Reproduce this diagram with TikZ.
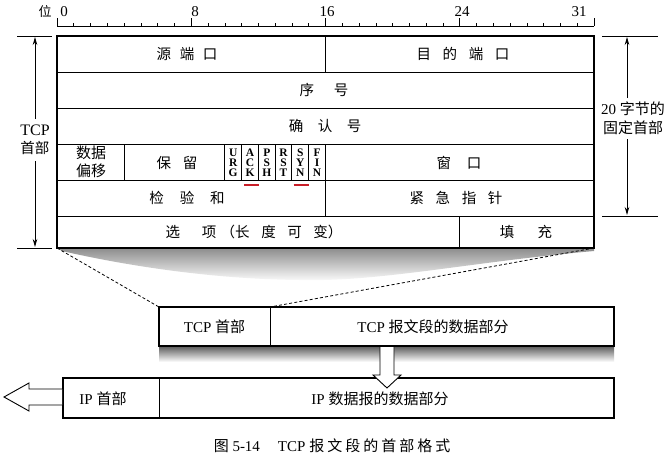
\documentclass[tikz,border=0pt]{standalone}
\usepackage{fontspec}
\setmainfont{Liberation Serif}
\newfontfamily\cjk{Noto Sans CJK SC}
\newfontfamily\cjkcap[LetterSpace=20]{Noto Sans CJK SC}
\usetikzlibrary{arrows.meta}
\newcommand\zh[1]{{\cjk #1}}
\newcommand\gp[1][0.8em]{\hspace{#1}}
\definecolor{ulred}{RGB}{200,30,40}
\begin{document}
\begin{tikzpicture}[x=1pt,y=-1pt,
  lbl/.style={inner sep=0pt, font=\fontsize{14.5}{16}\selectfont},
  big/.style={inner sep=0pt, font=\fontsize{15}{17}\selectfont},
  ruler/.style={inner sep=0pt, font=\fontsize{15}{16}\selectfont},
  outerbox/.style={line width=1.6pt},
  innerline/.style={line width=1pt},
  flag/.style={inner sep=0pt, text height=7.6pt, text depth=0pt, font=\fontsize{11.5}{10}\selectfont\bfseries},
  dimline/.style={line width=0.8pt},
  dimarrow/.style={line width=0.8pt, -{Stealth[length=8pt,width=4.5pt]}},
  hollow/.style={line width=0.9pt, fill=white, line join=miter},
  dashedline/.style={line width=0.8pt, dash pattern=on 3pt off 2.2pt},
  redline/.style={line width=2pt, ulred}
]
\useasboundingbox (0,0) rectangle (669,463);
\fill[white] (0,0) rectangle (669,463);

% ---------- ruler ----------
\draw[line width=0.8pt] (57,26) -- (594,26);
\foreach \i in {1,...,31} \draw[line width=0.6pt] ({57+\i*16.78125},26) -- ++(0,-3.5);
\foreach \i in {0,8,16,24,32} \draw[line width=0.8pt] ({57+\i*16.78125},26) -- ++(0,-8);
\node[inner sep=0pt, font=\fontsize{13}{14}\selectfont] (wei) at (45,12) {\zh{位}};
\node[ruler] (r0) at (64,12) {0};
\node[ruler] (r8) at (195,12) {8};
\node[ruler] (r16) at (327,12) {16};
\node[ruler] (r24) at (462,12) {24};
\node[ruler] (r31) at (579,12) {31};

% ---------- shadows ----------
\shade[top color=black!45, bottom color=white]
  (57,248) -- (594,248) -- (594,251) .. controls (470,262) and (380,282) .. (300,280)
  .. controls (200,279) and (110,262) .. (62,251) -- cycle;
\shade[top color=black!65, bottom color=white] (159,346) rectangle (614,362);

% ---------- header box ----------
\coordinate (hTL) at (57,36);
\coordinate (hBR) at (594,248);
\coordinate (hBL) at (57,248);
\foreach \y in {72,108,144,180,216} \draw[innerline] (57,\y) -- (594,\y);
\draw[innerline] (325.5,36) -- (325.5,72);
\draw[innerline] (124.1,144) -- (124.1,180);
\foreach \i in {10,...,15} \draw[innerline] ({57+\i*16.78125},144) -- ({57+\i*16.78125},180);
\draw[innerline] (325.5,144) -- (325.5,216);
\draw[innerline] (459.75,216) -- (459.75,248);
\draw[outerbox] (hTL) rectangle (hBR);

\node[lbl] (src) at (187,54) {\zh{源\gp[0.6em]端\gp[0.6em]口}};
\node[lbl] (dst) at (463,54) {\zh{目\gp 的\gp 端\gp 口}};
\node[lbl] (seq) at (324,90) {\zh{序\gp[1.35em]号}};
\node[lbl] (ack) at (325,126) {\zh{确\gp[1em]认\gp[1em]号}};
\node[lbl, align=center, font=\fontsize{15}{17.5}\selectfont] (off) at (91,162) {\zh{数据}\\\zh{偏移}};
\node[lbl] (res) at (177,163) {\zh{保\gp 留}};

% flags: one node per letter
\foreach \name/\a/\b/\c [count=\k from 0] in {URG/U/R/G, ACK/A/C/K, PSH/P/S/H, RST/R/S/T, SYN/S/Y/N, FIN/F/I/N} {
  \pgfmathsetmacro{\fx}{57+(10.5+\k)*16.78125}
  \node[flag] (\name1) at (\fx,152.5) {\a};
  \node[flag] (\name2) at (\fx,162.5) {\b};
  \node[flag] (\name3) at (\fx,172.5) {\c};
}

\node[lbl] (win) at (459,163) {\zh{窗\gp[1.1em]口}};
\node[lbl] (chk) at (187,198) {\zh{检\gp[1.1em]验\gp[1.1em]和}};
\node[lbl] (urg) at (456,198) {\zh{紧\gp 急\gp 指\gp 针}};
\node[lbl] (opt) at (254,232) {\zh{选\gp[1.5em]项\gp[0.3em]（长\gp 度\gp 可\gp 变）}};
\node[lbl] (pad) at (526,232) {\zh{填\gp[1.6em]充}};

\draw[redline] (244,184.5) -- (259,184.5);
\draw[redline] (293.5,184.5) -- (308.5,184.5);

% ---------- left bracket ----------
\draw[dimline] (17,36) -- (52,36);
\draw[dimline] (17,248) -- (52,248);
\node[inner sep=0pt, align=center, font=\fontsize{16}{18}\selectfont] (tcph) at (35,140) {TCP\\{\fontsize{14.5}{18}\selectfont\zh{首部}}};
\draw[dimarrow] (35,119) -- (35,37);
\draw[dimarrow] (35,161) -- (35,247);

% ---------- right bracket ----------
\node[inner sep=0pt, align=center, font=\fontsize{15}{19}\selectfont] (fix) at (633,118) {20 \zh{字节的}\\\zh{固定首部}};
\draw[dimline] (602,36) -- (658,36);
\draw[dimline] (602,216) -- (658,216);
\draw[dimarrow] (627,98) -- (627,37);
\draw[dimarrow] (627,139) -- (627,215);

% ---------- TCP segment ----------
\coordinate (tTL) at (159,307);
\coordinate (tD) at (270,307);
\draw[outerbox] (tTL) rectangle (614,346);
\draw[innerline] (tD) -- (270,346);
\node[big] (tcphd) at (214.5,327) {TCP \zh{首部}};
\node[big] (tcpdata) at (433,327) {TCP \zh{报文段的数据部分}};

\draw[dashedline] (hBL) -- (tTL);
\draw[dashedline] (hBR) -- (tD);

% ---------- IP datagram ----------
\draw[outerbox] (63,378) rectangle (614,418);
\draw[innerline] (159,378) -- (159,418);
\node[big] (iphd) at (103,399) {IP \zh{首部}};
\node[big] (ipdata) at (380,399) {IP \zh{数据报的数据部分}};

% ---------- hollow arrows ----------
\draw[hollow] (380,347) -- (380,375) -- (373,375) -- (387,388) -- (401,375) -- (394,375) -- (394,347);
\draw[hollow] (62,389) -- (29,389) -- (29,383) -- (4,397) -- (29,411) -- (29,405) -- (62,405);

% ---------- caption ----------
\node[inner sep=0pt, font=\fontsize{15}{16}\selectfont] (cap) at (332,446)
  {\zh{图} 5-14\hspace{1.2em}TCP {\cjkcap 报文段的首部格式}};
\end{tikzpicture}
\end{document}
